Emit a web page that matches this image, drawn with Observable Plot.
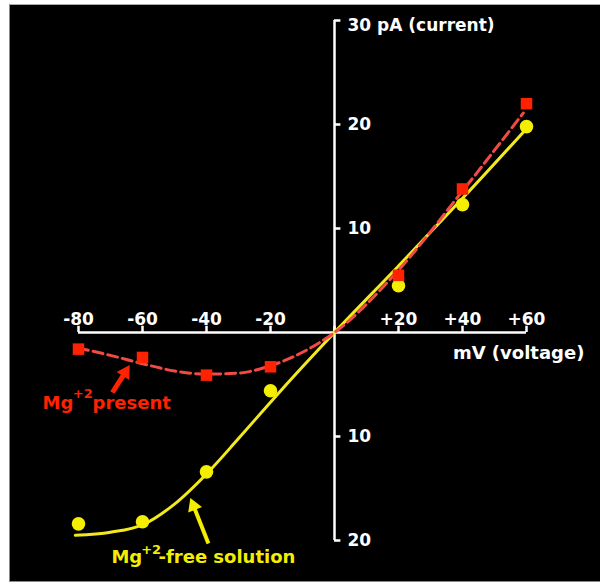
<!DOCTYPE html>
<html><head><meta charset="utf-8">
<script src="https://cdn.jsdelivr.net/npm/d3@7"></script>
<script src="https://cdn.jsdelivr.net/npm/@observablehq/plot@0.6"></script>
<style>
body{margin:0;background:#fff;}
#frame{position:absolute;left:9px;top:4px;width:591px;height:576px;border-left:1px solid #888;border-top:1px solid #aaa;border-bottom:1px solid #888;background:#000;}
#frame svg{display:block;}
</style></head><body><div id="frame"></div>
<script>
// measured points
const voltage = [-80, -60, -40, -20, 20, 40, 60];
const currentMgPresent = [-1.6, -2.4, -4.1, -3.3, 5.5, 13.8, 22.0];
const currentMgFree = [-18.4, -18.2, -13.4, -5.6, 4.5, 12.3, 19.8];

// fitted curves
const fitPresentVoltage = [-80, -70, -60, -50, -40, -30, -20, -10, 0, 20, 40, 59];
const fitPresentCurrent = [-1.5, -2.2, -3.0, -3.7, -4.0, -3.9, -3.2, -1.9, 0, 6.0, 13.6, 21.1];
const fitFreeVoltage = [-81, -70, -60, -50, -40, -30, -20, -10, 0, 20, 40, 60];
const fitFreeCurrent = [-19.5, -19.2, -18.5, -16.5, -13.6, -10.2, -6.7, -3.3, 0, 6.4, 12.9, 19.6];

// axes
const xTickValues = [-80, -60, -40, -20, 0, 20, 40, 60];
const xTickLabels = ["-80", "-60", "-40", "-20", "", "+20", "+40", "+60"];
const yTickValues = [30, 20, 10, -10, -20];
const yTickLabels = ["", "20", "10", "10", "20"];
const yAxisTitle = "30 pA (current)";
const xAxisTitle = "mV (voltage)";

// annotations
const redArrow = [{x1: -69.4, y1: -5.77, x2: -65.4, y2: -3.83, angle: 32}];
const yellowArrow = [{x1: -39.4, y1: -20.29, x2: -44.06, y2: -16.67, angle: -21.8}];
const redLabelMain = [{text: "Mg", x: -91.25, y: -7.31}, {text: "present", x: -75.6, y: -7.31}];
const redLabelSup = [{text: "+2", x: -81.8, y: -6.3}];
const yellowLabelMain = [{text: "Mg", x: -69.7, y: -22.2}, {text: "-free solution", x: -55.0, y: -22.2}];
const yellowLabelSup = [{text: "+2", x: -60.4, y: -21.3}];

const RED = "#ff2200", RED_LINE = "#f24a44", YELLOW = "#f4ee00", YELLOW_LINE = "#f2ea1e";

const points = voltage.map((v, i) => ({v, present: currentMgPresent[i], free: currentMgFree[i]}));
const fitPresent = fitPresentVoltage.map((v, i) => ({v, c: fitPresentCurrent[i]}));
const fitFree = fitFreeVoltage.map((v, i) => ({v, c: fitFreeCurrent[i]}));

const font = "DejaVu Sans";

const chart = Plot.plot({
  width: 591, height: 576,
  marginLeft: 68, marginRight: 75, marginTop: 15, marginBottom: 41,
  x: {domain: [-80, 60], axis: null},
  y: {domain: [-20, 30], axis: null},
  style: {background: "black", color: "white", fontFamily: font, fontWeight: "bold", overflow: "visible"},
  marks: [
    // axes
    Plot.ruleX([0], {y1: -20, y2: 30, stroke: "white", strokeWidth: 2.5}),
    Plot.ruleY([0], {x1: -80, x2: 60, stroke: "white", strokeWidth: 2.5}),
    Plot.ruleX(xTickValues, {x: d => d, y1: 0, y2: 0.6, stroke: "white", strokeWidth: 2.5}),
    Plot.ruleY(yTickValues, {y: d => d, x1: 0, x2: 2, stroke: "white", strokeWidth: 2.5}),
    Plot.text(xTickValues, {x: d => d, y: 0, text: (d, i) => xTickLabels[i], dy: -13, fill: "white", fontSize: 17, fontWeight: "bold"}),
    Plot.text(yTickValues, {x: 0, y: d => d, text: (d, i) => yTickLabels[i], dx: 13, textAnchor: "start", fill: "white", fontSize: 17, fontWeight: "bold"}),
    Plot.text([yAxisTitle], {x: 0, y: 30, text: d => d, dx: 13, dy: 5, textAnchor: "start", fill: "white", fontSize: 17, fontWeight: "bold"}),
    Plot.text([xAxisTitle], {x: 37, y: 0, text: d => d, dy: 21, textAnchor: "start", fill: "white", fontSize: 18, fontWeight: "bold"}),
    // fitted curves
    Plot.line(fitFree, {x: "v", y: "c", stroke: YELLOW_LINE, strokeWidth: 3, curve: "monotone-x"}),
    Plot.line(fitPresent, {x: "v", y: "c", stroke: RED_LINE, strokeWidth: 3, strokeDasharray: "10,5", curve: "monotone-x"}),
    // points
    Plot.dot(points, {x: "v", y: "free", r: 6.8, fill: YELLOW, stroke: "none"}),
    Plot.dot(points, {x: "v", y: "present", r: 6.5, symbol: "square", fill: RED, stroke: "none"}),
    // arrows
    Plot.link(redArrow, {x1: "x1", y1: "y1", x2: "x2", y2: "y2", stroke: RED, strokeWidth: 5}),
    Plot.dot(redArrow, {x: "x2", y: "y2", symbol: "triangle", r: 5.5, fill: RED, stroke: "none", rotate: "angle"}),
    Plot.link(yellowArrow, {x1: "x1", y1: "y1", x2: "x2", y2: "y2", stroke: YELLOW, strokeWidth: 4}),
    Plot.dot(yellowArrow, {x: "x2", y: "y2", symbol: "triangle", r: 5.5, fill: YELLOW, stroke: "none", rotate: "angle"}),
    // labels
    Plot.text(redLabelMain, {x: "x", y: "y", text: "text", textAnchor: "start", lineAnchor: "bottom", fill: RED, fontSize: 18, fontWeight: "bold"}),
    Plot.text(redLabelSup, {x: "x", y: "y", text: "text", textAnchor: "start", lineAnchor: "bottom", fill: RED, fontSize: 13, fontWeight: "bold"}),
    Plot.text(yellowLabelMain, {x: "x", y: "y", text: "text", textAnchor: "start", lineAnchor: "bottom", fill: YELLOW, fontSize: 18, fontWeight: "bold"}),
    Plot.text(yellowLabelSup, {x: "x", y: "y", text: "text", textAnchor: "start", lineAnchor: "bottom", fill: YELLOW, fontSize: 13, fontWeight: "bold"})
  ]
});
document.getElementById("frame").appendChild(chart);
</script></body></html>
